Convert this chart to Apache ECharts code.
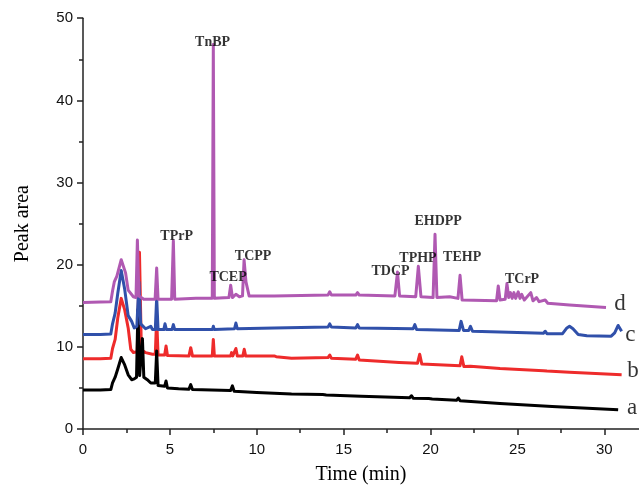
<!DOCTYPE html>
<html>
<head>
<meta charset="utf-8">
<script src="https://cdn.jsdelivr.net/npm/echarts@6/dist/echarts.min.js"></script>
<style>html,body{margin:0;padding:0;background:#fff}#c{width:639px;height:490px}</style>
</head>
<body>
<div id="c"></div>
<script>
// ---- data (time in min, peak area) ----
const xTicks = [0, 5, 10, 15, 20, 25, 30];
const yTicks = [0, 10, 20, 30, 40, 50];

const curveA = [[0,4.75],[1.0,4.75],[1.6,4.8],[1.7,5.6],[1.85,6.3],[2.0,7.3],[2.2,8.7],[2.4,7.8],[2.6,6.6],[2.8,6.0],[2.95,6.1],[3.08,6.3],[3.16,14.5],[3.26,6.5],[3.34,6.5],[3.42,11.0],[3.5,6.3],[3.7,6.0],[3.9,5.6],[4.16,5.6],[4.24,9.5],[4.32,5.3],[4.7,5.2],[4.78,5.85],[4.86,5.0],[5.5,4.9],[6.1,4.85],[6.2,5.4],[6.3,4.8],[8.5,4.7],[8.6,5.25],[8.7,4.6],[10,4.45],[12,4.25],[13.8,4.2],[13.9,4.4],[14.0,4.15],[16,4.0],[18.8,3.8],[18.9,4.05],[19.0,3.75],[19.9,3.7],[20.0,3.85],[20.1,3.65],[21.5,3.5],[21.6,3.75],[21.7,3.45],[24,3.1],[27,2.75],[30.8,2.35]];

const curveB = [[0,8.55],[1.0,8.55],[1.6,8.6],[1.7,9.8],[1.85,10.9],[2.0,13.5],[2.2,15.9],[2.4,14.5],[2.6,12.3],[2.75,9.7],[2.9,9.3],[3.12,9.4],[3.25,21.5],[3.36,9.6],[3.6,9.3],[4.0,9.1],[4.16,9.1],[4.24,13.5],[4.32,9.0],[4.7,9.0],[4.78,10.1],[4.86,8.95],[6.1,8.9],[6.2,9.9],[6.3,8.9],[7.44,8.9],[7.5,10.9],[7.56,8.9],[8.5,8.9],[8.55,9.3],[8.62,8.9],[8.8,9.8],[8.88,8.9],[9.2,8.9],[9.28,9.7],[9.36,8.9],[11,8.9],[11.05,9.1],[11.12,8.8],[12,8.6],[14.1,8.7],[14.2,9.0],[14.3,8.6],[15.7,8.5],[15.8,9.0],[15.9,8.4],[18.2,8.1],[18.25,8.25],[18.3,8.05],[19.25,8.0],[19.38,9.1],[19.5,7.9],[21.7,7.7],[21.8,8.8],[21.92,7.6],[22.3,7.65],[22.4,7.5],[24,7.35],[26.5,7.1],[26.6,7.3],[26.7,7.05],[28,6.9],[31.0,6.6]];

const curveC = [[0,11.5],[1.0,11.5],[1.6,11.55],[1.7,12.8],[1.85,14.1],[2.0,16.5],[2.2,19.3],[2.4,17.0],[2.6,13.8],[2.8,13.1],[2.95,12.3],[3.1,12.5],[3.22,17.9],[3.32,12.8],[3.6,12.2],[3.9,12.5],[4.0,12.1],[4.16,12.1],[4.24,16.0],[4.32,12.1],[4.65,12.1],[4.72,12.8],[4.8,12.1],[5.12,12.1],[5.2,12.7],[5.28,12.1],[7.45,12.1],[7.5,12.5],[7.56,12.1],[8.72,12.2],[8.8,12.9],[8.88,12.2],[11,12.3],[14.1,12.4],[14.2,12.8],[14.3,12.4],[15.7,12.3],[15.8,12.7],[15.9,12.3],[19.0,12.2],[19.1,12.7],[19.2,12.1],[21.65,12.0],[21.76,13.1],[21.9,12.0],[22.2,12.0],[22.3,12.5],[22.42,11.9],[24,11.8],[26.5,11.65],[26.6,11.9],[26.7,11.6],[27.6,11.6],[27.85,12.3],[28.0,12.5],[28.2,12.2],[28.5,11.5],[29,11.35],[30.4,11.3],[30.6,11.7],[30.8,12.6],[31.0,11.9]];

const curveD = [[0,15.4],[1.0,15.45],[1.6,15.5],[1.7,16.8],[1.8,17.9],[1.95,18.6],[2.2,20.6],[2.45,19.0],[2.6,16.9],[2.9,16.1],[3.05,16.0],[3.13,23.0],[3.22,16.2],[3.5,15.8],[4.15,15.8],[4.24,19.6],[4.32,15.8],[5.1,15.8],[5.2,22.9],[5.28,15.8],[6.5,15.9],[7.44,15.9],[7.5,46.8],[7.56,15.9],[8.4,16.0],[8.5,17.5],[8.6,16.0],[8.8,16.4],[9.0,16.1],[9.18,16.2],[9.27,20.6],[9.38,17.9],[9.48,17.9],[9.56,16.2],[11,16.2],[14.1,16.3],[14.2,16.7],[14.3,16.3],[15.7,16.3],[15.8,16.6],[15.9,16.3],[17.95,16.2],[18.1,19.1],[18.22,16.2],[19.15,16.1],[19.3,19.8],[19.45,16.1],[20.15,16.0],[20.26,23.7],[20.37,16.0],[21.1,16.1],[21.58,15.9],[21.7,18.7],[21.82,15.7],[23.8,15.6],[23.9,17.4],[24.0,15.7],[24.3,15.8],[24.4,17.7],[24.5,16.0],[24.6,16.6],[24.7,15.9],[24.8,16.6],[24.9,15.9],[25.05,16.7],[25.15,15.9],[25.25,16.4],[25.4,15.7],[25.77,16.6],[25.9,15.6],[26.1,16.0],[26.25,15.5],[26.6,15.7],[26.75,15.3],[28,15.1],[30.1,14.8]];

const peakNames = ['TnBP','TPrP','TCEP','TCPP','TDCP','TPHP','EHDPP','TEHP','TCrP'];
const peakLabelTimes = [7.46, 5.39, 8.35, 9.79, 17.7, 19.28, 20.44, 21.82, 25.27];
const peakLabelValues = [47.0, 23.4, 18.46, 21.04, 19.2, 20.8, 25.3, 20.9, 18.2];

const curveNames = ['a','b','c','d'];
const curveLabelTimes = [31.6, 31.66, 31.5, 30.9];
const curveLabelValues = [2.6, 7.1, 11.5, 15.2];

const colors = {a:'#000000', b:'#ee2b2b', c:'#3050aa', d:'#b059b2'};

// ---- chart ----
const chart = echarts.init(document.getElementById('c'), null, {renderer:'canvas'});
function lineSeries(name, data, color){
  return {name, type:'line', data, showSymbol:false, symbol:'none', smooth:false,
    lineStyle:{color, width:3, join:'round'}, animation:false, clip:false};
}
const peakData = peakNames.map((n,i)=>({name:n, value:[peakLabelTimes[i], peakLabelValues[i]]}));
const curveLabelData = curveNames.map((n,i)=>({name:n, value:[curveLabelTimes[i], curveLabelValues[i]]}));

chart.setOption({
  animation:false,
  backgroundColor:'#fff',
  grid:{left:83, right:0, top:18.2, bottom:58.3, containLabel:false},
  xAxis:{type:'value', min:0, max:32, interval:5,
    name:'Time (min)', nameLocation:'middle', nameGap:36,
    nameTextStyle:{fontFamily:'Liberation Serif', fontSize:20, color:'#000'},
    axisLine:{show:true, lineStyle:{color:'#222', width:1.5}},
    axisTick:{show:true, length:6, lineStyle:{color:'#222', width:1.5}, customValues:xTicks},
    minorTick:{show:true, splitNumber:2, length:4, lineStyle:{color:'#222', width:1.5}},
    axisLabel:{margin:13, fontFamily:'Liberation Sans', fontSize:15, color:'#111', customValues:xTicks},
    splitLine:{show:false}},
  yAxis:{type:'value', min:0, max:50, interval:10,
    name:'Peak area', nameLocation:'middle', nameGap:50, nameRotate:90,
    nameTextStyle:{fontFamily:'Liberation Serif', fontSize:20, color:'#000'},
    axisLine:{show:true, lineStyle:{color:'#222', width:1.5}},
    axisTick:{show:true, length:6, lineStyle:{color:'#222', width:1.5}, customValues:yTicks},
    minorTick:{show:true, splitNumber:2, length:4, lineStyle:{color:'#222', width:1.5}},
    axisLabel:{margin:10, fontFamily:'Liberation Sans', fontSize:15, color:'#111', customValues:yTicks},
    splitLine:{show:false}},
  series:[
    lineSeries('b', curveB, colors.b),
    lineSeries('a', curveA, colors.a),
    lineSeries('c', curveC, colors.c),
    lineSeries('d', curveD, colors.d),
    {type:'scatter', data:peakData, symbolSize:0, z:10, clip:false,
      label:{show:true, position:'inside', formatter:p=>p.name, fontFamily:'Liberation Serif',
        fontWeight:'bold', fontSize:14, color:'#000'}},
    {type:'scatter', data:curveLabelData, symbolSize:0, z:10, clip:false,
      label:{show:true, position:'inside', formatter:p=>p.name, fontFamily:'Liberation Serif',
        fontSize:23, color:'#000'}}
  ]
});
</script>
</body>
</html>
